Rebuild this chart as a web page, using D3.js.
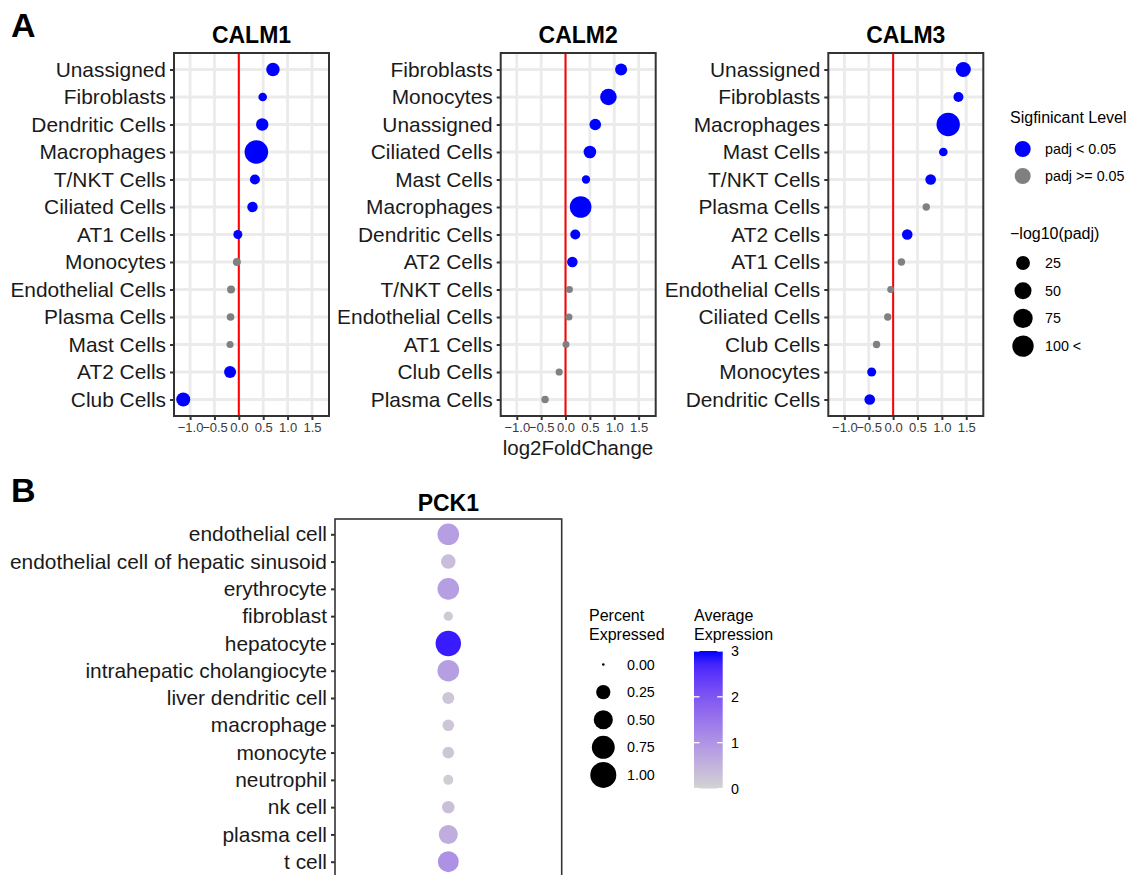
<!DOCTYPE html>
<html lang="en">
<head>
<meta charset="utf-8">
<title>CALM / PCK1 dot plots</title>
<script src="https://cdn.jsdelivr.net/npm/d3@7/dist/d3.min.js"></script>
<style>
  body { margin: 0; background: white; }
  text { font-family: "Liberation Sans", Arial, sans-serif; }
</style>
</head>
<body>
<svg id="chart" width="1147" height="875"></svg>
<script>
// ---- data: panel A (log2FoldChange and -log10(padj)) ----
var calm1Cells = ["Unassigned", "Fibroblasts", "Dendritic Cells", "Macrophages", "T/NKT Cells", "Ciliated Cells",
  "AT1 Cells", "Monocytes", "Endothelial Cells", "Plasma Cells", "Mast Cells", "AT2 Cells", "Club Cells"];
var calm1Lfc = [0.70, 0.49, 0.48, 0.36, 0.33, 0.28, -0.02, -0.04, -0.16, -0.17, -0.18, -0.18, -1.14];
var calm1Padj = [22, 2.2, 16, 131, 5.8, 7.1, 3.0, 1.1, 1.1, 0.7, 0.2, 14, 26];

var calm2Cells = ["Fibroblasts", "Monocytes", "Unassigned", "Ciliated Cells", "Mast Cells", "Macrophages",
  "Dendritic Cells", "AT2 Cells", "T/NKT Cells", "Endothelial Cells", "AT1 Cells", "Club Cells", "Plasma Cells"];
var calm2Lfc = [1.14, 0.88, 0.61, 0.50, 0.42, 0.31, 0.20, 0.14, 0.08, 0.07, 0.01, -0.13, -0.42];
var calm2Padj = [14, 46, 12, 17, 1.6, 103, 5.8, 7.8, 0.15, 0.2, 0.1, 0.3, 0.5];

var calm3Cells = ["Unassigned", "Fibroblasts", "Macrophages", "Mast Cells", "T/NKT Cells", "Plasma Cells",
  "AT2 Cells", "AT1 Cells", "Endothelial Cells", "Ciliated Cells", "Club Cells", "Monocytes", "Dendritic Cells"];
var calm3Lfc = [1.44, 1.34, 1.13, 1.03, 0.77, 0.68, 0.29, 0.17, -0.05, -0.11, -0.34, -0.44, -0.48];
var calm3Padj = [33, 5.8, 128, 2.2, 7.8, 0.45, 7.8, 0.45, 0.1, 0.45, 0.45, 3.0, 7.8];

var lfcTicks = [-1, -0.5, 0, 0.5, 1, 1.5];
var sizeBreaks = [25, 50, 75, 100];
var sizeLabels = ["25", "50", "75", "100 <"];
var sigLabels = ["padj < 0.05", "padj >= 0.05"];

// ---- data: panel B (PCK1) ----
var pckCells = ["endothelial cell", "endothelial cell of hepatic sinusoid", "erythrocyte", "fibroblast", "hepatocyte",
  "intrahepatic cholangiocyte", "liver dendritic cell", "macrophage", "monocyte", "neutrophil", "nk cell",
  "plasma cell", "t cell"];
var pckPct = [0.66, 0.26, 0.66, 0.08, 0.95, 0.66, 0.16, 0.15, 0.15, 0.10, 0.18, 0.49, 0.61];
var pckAvg = [0.85, 0.35, 0.85, 0.12, 2.8, 0.85, 0.2, 0.2, 0.2, 0.1, 0.32, 0.6, 1.05];
var pctBreaks = [0, 0.25, 0.5, 0.75, 1];
var avgBreaks = [0, 1, 2, 3];

var svg = d3.select("#chart");
var sigCut = -Math.log10(0.05);

var x = d3.scaleLinear().domain([-1.33, 1.85]).range([0, 155]);
var r = d3.scaleSqrt().domain([0, 100]).range([3.2, 10.7]);

function panel(x0, title, cells, lfc, padj) {
  var g = svg.append("g").attr("transform", "translate(" + x0 + ",53)");
  var y = d3.scalePoint().domain(cells).range([0, 363]).padding(0.6);
  var rows = cells.map(function(c, i) { return {cell: c, lfc: lfc[i], p: padj[i]}; });

  // grid
  g.selectAll(".gx").data(lfcTicks).enter().append("line")
    .attr("x1", function(d) { return x(d); }).attr("x2", function(d) { return x(d); })
    .attr("y1", 0).attr("y2", 363)
    .attr("stroke", "#ebebeb").attr("stroke-width", 2.8);
  g.selectAll(".gy").data(cells).enter().append("line")
    .attr("x1", 0).attr("x2", 155)
    .attr("y1", function(d) { return y(d); }).attr("y2", function(d) { return y(d); })
    .attr("stroke", "#ebebeb").attr("stroke-width", 2.8);

  g.append("line").attr("x1", x(0)).attr("x2", x(0)).attr("y1", 0).attr("y2", 363)
    .attr("stroke", "#ff0000").attr("stroke-width", 2);

  g.selectAll("circle").data(rows).enter().append("circle")
    .attr("cx", function(d) { return x(d.lfc); })
    .attr("cy", function(d) { return y(d.cell); })
    .attr("r", function(d) { return r(d.p); })
    .attr("fill", function(d) { return d.p > sigCut ? "#0000ff" : "#808080"; });

  g.append("rect").attr("width", 155).attr("height", 363)
    .attr("fill", "none").attr("stroke", "#333").attr("stroke-width", 2);

  var ya = g.append("g").call(d3.axisLeft(y).tickSize(4).tickPadding(4));
  ya.select(".domain").remove();
  ya.selectAll("line").attr("stroke", "#333").attr("stroke-width", 2);
  ya.selectAll("text").attr("font-size", 20.9).attr("fill", "#1a1a1a").attr("font-family", null);

  var xa = g.append("g").attr("transform", "translate(0,363)")
    .call(d3.axisBottom(x).tickValues(lfcTicks).tickFormat(d3.format(".1f")).tickSize(4).tickPadding(3));
  xa.select(".domain").remove();
  xa.selectAll("line").attr("stroke", "#333").attr("stroke-width", 2);
  xa.selectAll("text").attr("font-size", 13).attr("fill", "#3a3a3a").attr("font-family", null);

  svg.append("text").attr("x", x0 + 77.5).attr("y", 43).attr("text-anchor", "middle")
    .attr("font-size", 23).attr("font-weight", "bold").text(title);
}

panel(174, "CALM1", calm1Cells, calm1Lfc, calm1Padj);
panel(500.7, "CALM2", calm2Cells, calm2Lfc, calm2Padj);
panel(828.3, "CALM3", calm3Cells, calm3Lfc, calm3Padj);

svg.append("text").attr("x", 578).attr("y", 455).attr("text-anchor", "middle")
  .attr("font-size", 20.5).attr("fill", "#1a1a1a").text("log2FoldChange");

svg.append("text").attr("x", 11).attr("y", 37).attr("font-size", 34).attr("font-weight", "bold").text("A");
svg.append("text").attr("x", 11).attr("y", 502).attr("font-size", 34).attr("font-weight", "bold").text("B");

// legend A
var legA = svg.append("g");
legA.append("text").attr("x", 1010).attr("y", 123).attr("font-size", 16).text("Sigfinicant Level");
legA.selectAll(".sig").data(sigLabels).enter().append("g")
  .each(function(d, i) {
    var gg = d3.select(this);
    gg.append("circle").attr("cx", 1022.7).attr("cy", 149 + i * 27).attr("r", 8)
      .attr("fill", i === 0 ? "#0000ff" : "#808080");
    gg.append("text").attr("x", 1045).attr("y", 149 + i * 27).attr("dy", "0.35em")
      .attr("font-size", 14.3).text(d);
  });
legA.append("text").attr("x", 1010).attr("y", 239).attr("font-size", 16).text("\u2212log10(padj)");
legA.selectAll(".sz").data(sizeBreaks).enter().append("g")
  .each(function(d, i) {
    var gg = d3.select(this);
    gg.append("circle").attr("cx", 1023).attr("cy", 263 + i * 27.7).attr("r", r(d)).attr("fill", "black");
    gg.append("text").attr("x", 1045).attr("y", 263 + i * 27.7).attr("dy", "0.35em")
      .attr("font-size", 14.3).text(sizeLabels[i]);
  });

// ---- panel B ----
var color = d3.scaleLinear().domain([0, 3]).range(["lightgrey", "blue"]).interpolate(d3.interpolateLab);
var pr = d3.scaleSqrt().domain([0, 1]).range([1.3, 13]);
var gB = svg.append("g").attr("transform", "translate(335,519)");
var yB = d3.scalePoint().domain(pckCells).range([0, 358]).padding(0.56);
var wB = 226.7;
var pRows = pckCells.map(function(c, i) { return {cell: c, pct: pckPct[i], avg: pckAvg[i]}; });

gB.selectAll("circle").data(pRows).enter().append("circle")
  .attr("cx", 113.3)
  .attr("cy", function(d) { return yB(d.cell); })
  .attr("r", function(d) { return pr(d.pct); })
  .attr("fill", function(d) { return color(d.avg); });
gB.append("rect").attr("width", wB).attr("height", 358)
  .attr("fill", "none").attr("stroke", "#333").attr("stroke-width", 1.6);
var yaB = gB.append("g").call(d3.axisLeft(yB).tickSize(4).tickPadding(4));
yaB.select(".domain").remove();
yaB.selectAll("line").attr("stroke", "#333").attr("stroke-width", 2);
yaB.selectAll("text").attr("font-size", 20.9).attr("fill", "#1a1a1a").attr("font-family", null);
svg.append("text").attr("x", 335 + wB / 2).attr("y", 511).attr("text-anchor", "middle")
  .attr("font-size", 23).attr("font-weight", "bold").text("PCK1");

// legend B: percent expressed
var legB = svg.append("g");
legB.append("text").attr("x", 589).attr("y", 621).attr("font-size", 16).text("Percent");
legB.append("text").attr("x", 589).attr("y", 640).attr("font-size", 16).text("Expressed");
legB.selectAll(".pc").data(pctBreaks).enter().append("g")
  .each(function(d, i) {
    var gg = d3.select(this);
    var cy = 664.5 + i * 27.6;
    gg.append("circle").attr("cx", 603.3).attr("cy", cy).attr("r", pr(d)).attr("fill", "black");
    gg.append("text").attr("x", 627).attr("y", cy).attr("dy", "0.35em").attr("font-size", 14.3)
      .text(d3.format(".2f")(d));
  });

// legend B: colour bar
legB.append("text").attr("x", 694).attr("y", 621).attr("font-size", 16).text("Average");
legB.append("text").attr("x", 694).attr("y", 640).attr("font-size", 16).text("Expression");
var grad = svg.append("defs").append("linearGradient").attr("id", "avgGrad")
  .attr("x1", 0).attr("y1", 1).attr("x2", 0).attr("y2", 0);
d3.range(0, 1.0001, 0.1).forEach(function(t) {
  grad.append("stop").attr("offset", t).attr("stop-color", color(t * 3));
});
var cY = d3.scaleLinear().domain([0, 3]).range([788.5, 651]);
legB.append("rect").attr("x", 694).attr("y", cY(3)).attr("width", 28.7).attr("height", cY(0) - cY(3))
  .attr("fill", "url(#avgGrad)");
legB.selectAll(".cb").data(avgBreaks).enter().append("g")
  .each(function(d) {
    var gg = d3.select(this);
    gg.append("line").attr("x1", 694).attr("x2", 699.5).attr("y1", cY(d)).attr("y2", cY(d))
      .attr("stroke", "white").attr("stroke-width", 1.3);
    gg.append("line").attr("x1", 717.2).attr("x2", 722.7).attr("y1", cY(d)).attr("y2", cY(d))
      .attr("stroke", "white").attr("stroke-width", 1.3);
    gg.append("text").attr("x", 731).attr("y", cY(d)).attr("dy", "0.35em").attr("font-size", 14.3).text(d);
  });
</script>
</body>
</html>
